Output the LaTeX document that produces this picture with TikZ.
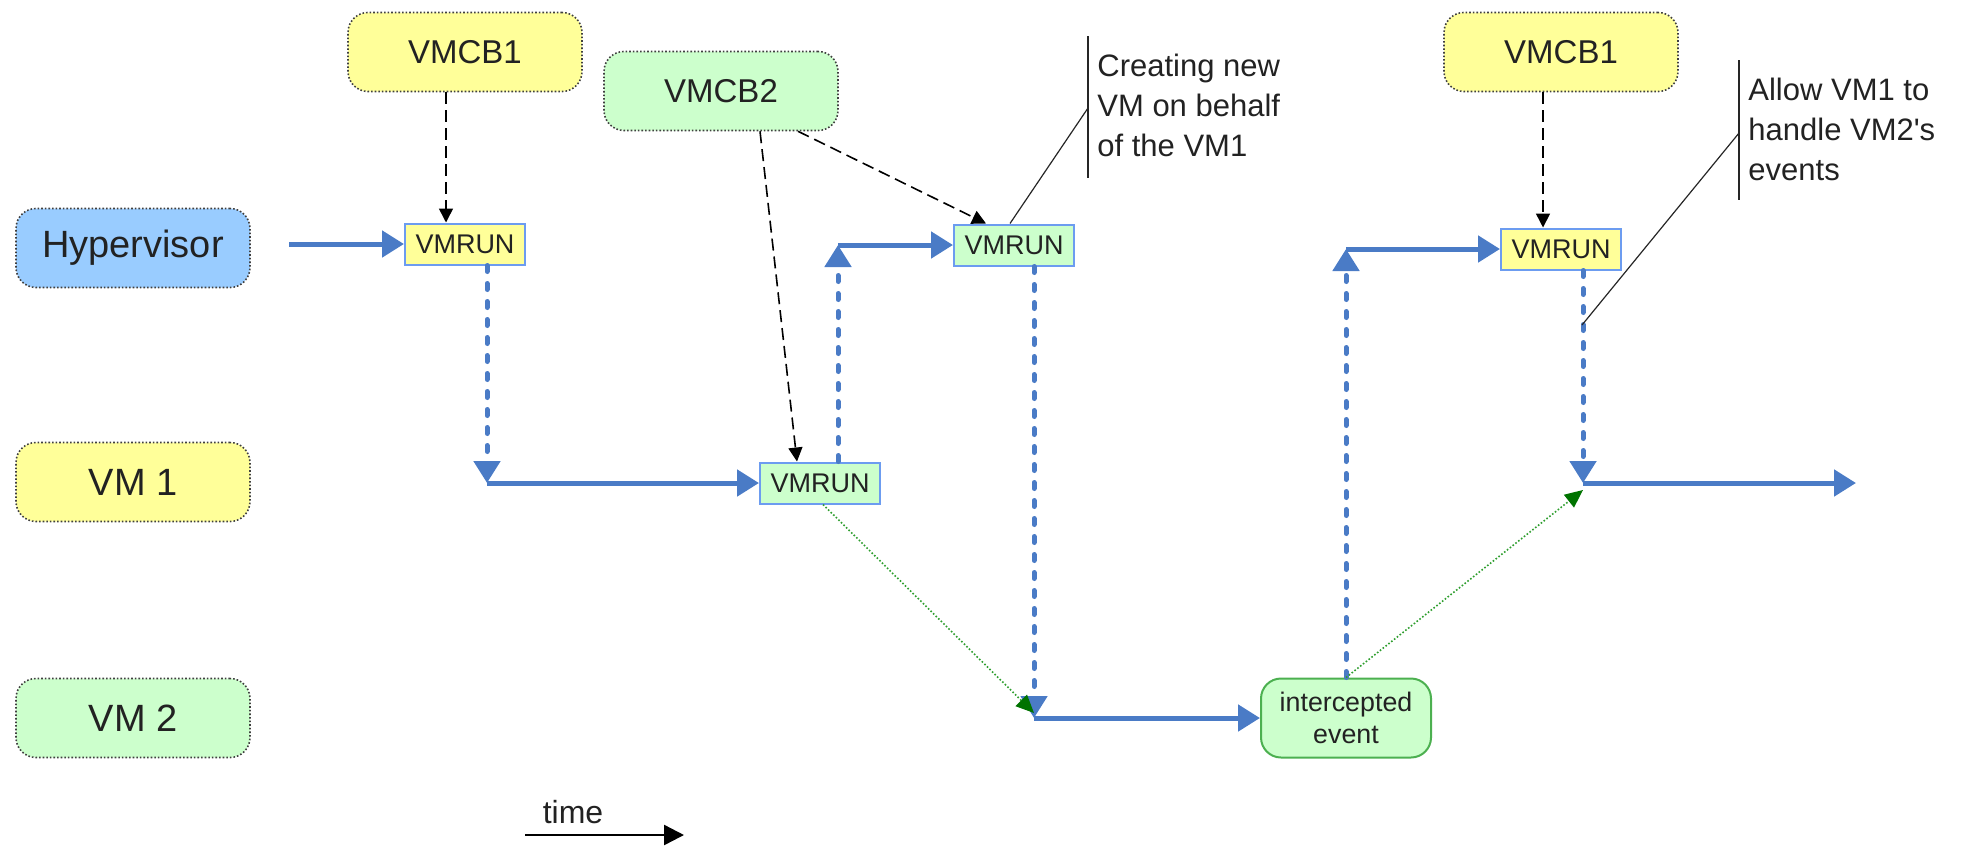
\documentclass[tikz,border=0pt]{standalone}
\usepackage{fontspec}
\setmainfont{Liberation Sans}
\usetikzlibrary{arrows.meta, positioning}

\definecolor{hvblue}{HTML}{99CCFF}
\definecolor{vmyellow}{HTML}{FFFF99}
\definecolor{vmgreen}{HTML}{CCFFCC}
\definecolor{flowblue}{HTML}{4A7BC6}
\definecolor{runedge}{HTML}{6C9CF0}
\definecolor{evgreen}{HTML}{4CB050}
\definecolor{spawngreen}{HTML}{2E9E2E}
\definecolor{inkgray}{HTML}{222222}

\begin{document}
\begin{tikzpicture}[x=0.5pt, y=-0.5pt,
    lane/.style={draw=black!75, densely dotted, line width=0.8pt, rounded corners=10pt,
      minimum width=117pt, minimum height=39.5pt, inner sep=0pt, text=inkgray,
      font=\fontsize{19}{22}\selectfont},
    vmcb/.style={lane, font=\fontsize{16.5}{19}\selectfont},
    run/.style={draw=runedge, line width=1pt, minimum width=60pt, minimum height=20.5pt,
      inner sep=0pt, text=inkgray, font=\fontsize{13.5}{15}\selectfont},
    event/.style={draw=evgreen, fill=vmgreen, line width=1pt, rounded corners=10pt,
      minimum width=85pt, minimum height=39.5pt, inner sep=0pt, align=center,
      text=inkgray, font=\fontsize{13.4}{16}\selectfont},
    flow/.style={draw=flowblue, line width=2.5pt, -{Triangle[length=11pt,width=13pt]}},
    jump/.style={flow, dash pattern=on 3pt off 6pt, line cap=round},
    ctrl/.style={draw=black, line width=0.8pt, dash pattern=on 6pt off 3pt,
      -{Triangle[length=7pt,width=7pt]}},
    spawn/.style={draw=spawngreen, line width=0.8pt, densely dotted,
      -{Triangle[length=9pt,width=8pt,color=green!45!black]}},
    note/.style={draw=black!85, line width=0.6pt},
    notetext/.style={align=left, inner sep=0pt, text=inkgray,
      font=\fontsize{15.5}{20}\selectfont}]

  \useasboundingbox (0,0) rectangle (1968,846);

  % Lanes
  \node[lane, fill=hvblue] (hyp) at (133,248) {Hypervisor};
  \node[lane, fill=vmyellow] (vm1) at (133,482) {VM 1};
  \node[lane, fill=vmgreen] (vm2) at (133,718) {VM 2};

  % Control blocks
  \node[vmcb, fill=vmyellow] (vmcba) at (465,52) {VMCB1};
  \node[vmcb, fill=vmgreen] (vmcbb) at (721,91) {VMCB2};
  \node[vmcb, fill=vmyellow] (vmcbc) at (1561,52) {VMCB1};

  % VMRUN points
  \node[run, fill=vmyellow] (runa) at (465,244) {VMRUN};
  \node[run, fill=vmgreen] (runb) at (820,483) {VMRUN};
  \node[run, fill=vmgreen] (runc) at (1014,245) {VMRUN};
  \node[run, fill=vmyellow] (rund) at (1561,249) {VMRUN};
  \node[event] (ev) at (1346,718) {intercepted\\event};

  % Execution flow
  \coordinate (start) at (289,244);
  \coordinate (ka) at (487,483);
  \coordinate (kb) at (838,245);
  \coordinate (kc) at (1034,718);
  \coordinate (kd) at (1346,249);
  \coordinate (ke) at (1583,483);
  \coordinate (kend) at (1856,483);

  \draw[flow] (start) -- (runa);
  \draw[jump] (runa.south -| ka) -- (ka);
  \draw[flow] (ka) -- (runb);
  \draw[jump] (runb.north -| kb) -- (kb);
  \draw[flow] (kb) -- (runc);
  \draw[jump] (runc.south -| kc) -- (kc);
  \draw[flow] (kc) -- (ev);
  \draw[jump] (ev.north) -- (kd);
  \draw[flow] (kd) -- (rund);
  \draw[jump] (rund.south -| ke) -- (ke);
  \draw[flow] (ke) -- (kend);

  % VMCB loads
  \draw[ctrl] ([xshift=-9.5pt]vmcba.south) -- ([xshift=-9.5pt]runa.north);
  \draw[ctrl] ([xshift=19.5pt]vmcbb.south) -- ([xshift=-11.5pt]runb.north);
  \draw[ctrl] ([xshift=38.5pt]vmcbb.south) -- ([xshift=-14pt]runc.north);
  \draw[ctrl] ([xshift=-9pt]vmcbc.south) -- ([xshift=-9pt]rund.north);

  % Hand-offs
  \draw[spawn] ([xshift=1.5pt]runb.south) -- ([yshift=2.5pt]kc);
  \draw[spawn] (ev.north) -- ([yshift=-3.5pt]ke);

  % Notes
  \coordinate (na) at (1088,36);
  \coordinate (nb) at (1088,178);
  \coordinate (nc) at (1088,108);
  \draw[note] (na) -- (nb);
  \draw[note] (nc) -- ([xshift=-2pt]runc.north);
  \node[notetext, anchor=west] (notea) at (1097,105) {Creating new\\VM on behalf\\of the VM1};

  \coordinate (nd) at (1739,60);
  \coordinate (ne) at (1739,200);
  \coordinate (nf) at (1739,133);
  \coordinate (ng) at (1582,325);
  \draw[note] (nd) -- (ne);
  \draw[note] (nf) -- (ng);
  \node[notetext, anchor=west] (noteb) at (1748,129) {Allow VM1 to\\handle VM2\textquotesingle s\\events};

  % Time axis
  \coordinate (ta) at (525,835);
  \coordinate (tb) at (684,835);
  \draw[line width=1.2pt, -{Triangle[length=10pt,width=10pt]}] (ta) -- (tb);
  \node[text=inkgray, font=\fontsize{16}{18}\selectfont] (tlabel) at (573,812) {time};
\end{tikzpicture}
\end{document}
